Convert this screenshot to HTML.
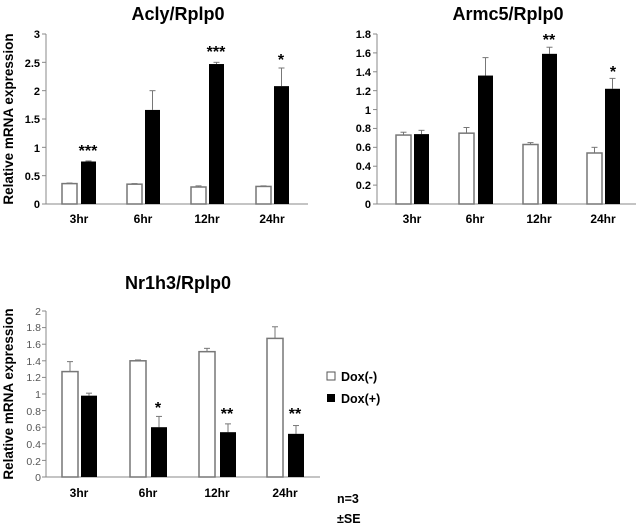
<!DOCTYPE html>
<html><head><meta charset="utf-8"><style>
body{margin:0;background:#fff;}
svg{display:block;font-family:"Liberation Sans",Arial,sans-serif;}
.t{font-weight:bold;font-size:18px;}
.y{font-weight:bold;font-size:11px;text-anchor:end;}
.y3{font-size:10.5px;text-anchor:end;fill:#555;}
.x{font-weight:bold;font-size:12px;text-anchor:middle;}
.s{font-weight:bold;font-size:16px;text-anchor:middle;}
.yl{font-weight:bold;font-size:13.5px;text-anchor:middle;}
.lg{font-weight:bold;font-size:12.5px;}
</style></head><body>
<svg id="c" width="636" height="528" viewBox="0 0 636 528">
<text class="t" x="178" y="20" text-anchor="middle">Acly/Rplp0</text>
<text class="t" x="508" y="20" text-anchor="middle">Armc5/Rplp0</text>
<text class="t" x="178" y="289" text-anchor="middle">Nr1h3/Rplp0</text>
<text class="yl" transform="translate(13,119) rotate(-90)">Relative mRNA expression</text>
<text class="yl" transform="translate(13,394) rotate(-90)">Relative mRNA expression</text>
<g class="y"><text x="40" y="208">0</text><text x="40" y="180">0.5</text><text x="40" y="152">1</text><text x="40" y="123">1.5</text><text x="40" y="95">2</text><text x="40" y="67">2.5</text><text x="40" y="38">3</text></g>
<g class="y"><text x="371" y="208">0</text><text x="371" y="189">0.2</text><text x="371" y="170">0.4</text><text x="371" y="151">0.6</text><text x="371" y="132">0.8</text><text x="371" y="114">1</text><text x="371" y="95">1.2</text><text x="371" y="76">1.4</text><text x="371" y="57">1.6</text><text x="371" y="38">1.8</text></g>
<g class="y3"><text x="41" y="481">0</text><text x="41" y="465">0.2</text><text x="41" y="448">0.4</text><text x="41" y="431">0.6</text><text x="41" y="415">0.8</text><text x="41" y="398">1</text><text x="41" y="381">1.2</text><text x="41" y="365">1.4</text><text x="41" y="348">1.6</text><text x="41" y="331">1.8</text><text x="41" y="315">2</text></g>
<g class="x"><text x="79" y="223">3hr</text><text x="143" y="223">6hr</text><text x="207" y="223">12hr</text><text x="272" y="223">24hr</text>
<text x="412" y="223">3hr</text><text x="475" y="223">6hr</text><text x="539" y="223">12hr</text><text x="603" y="223">24hr</text>
<text x="79" y="497">3hr</text><text x="148" y="497">6hr</text><text x="217" y="497">12hr</text><text x="285" y="497">24hr</text></g>
<g class="s"><text x="88" y="156">***</text><text x="216" y="57">***</text><text x="281" y="65">*</text>
<text x="549" y="45">**</text><text x="613" y="77">*</text>
<text x="158" y="413">*</text><text x="227" y="419">**</text><text x="295" y="419">**</text></g>
<rect x="327" y="372" width="8" height="8" fill="#fff" stroke="#555"/><rect x="327" y="394" width="8" height="8" fill="#000"/>
<text class="lg" x="341" y="381">Dox(-)</text><text class="lg" x="341" y="403">Dox(+)</text>
<text class="lg" x="337" y="503">n=3</text><text class="lg" x="337" y="523">±SE</text>
<g id="g"></g>
</svg>
<script>
var h='';
function ch(ax,y0,ppu,xe,ws,bs,bw,W,B,We,Be){
 h+='<line x1="'+ax+'" y1="'+(y0-ppu*( ch.max))+'" x2="'+ax+'" y2="'+y0+'" stroke="#888"/>';
 h+='<line x1="'+ax+'" y1="'+y0+'" x2="'+xe+'" y2="'+y0+'" stroke="#888"/>';
 for(var i=0;i<=ch.n;i++){var yy=y0-ppu*ch.max*i/ch.n;h+='<line x1="'+(ax-4)+'" y1="'+yy+'" x2="'+ax+'" y2="'+yy+'" stroke="#888"/>';}
 for(var i=0;i<4;i++){
  var yt=y0-W[i]*ppu,ye=y0-(W[i]+We[i])*ppu,cx=ws[i]+bw/2;
  h+='<line x1="'+cx+'" y1="'+yt+'" x2="'+cx+'" y2="'+ye+'" stroke="#777"/><line x1="'+(cx-3)+'" y1="'+ye+'" x2="'+(cx+3)+'" y2="'+ye+'" stroke="#777"/>';
  h+='<rect x="'+ws[i]+'" y="'+yt+'" width="'+bw+'" height="'+(W[i]*ppu)+'" fill="#fff" stroke="#777" stroke-width="1.5"/>';
  yt=y0-B[i]*ppu;ye=y0-(B[i]+Be[i])*ppu;cx=bs[i]+bw/2;
  h+='<line x1="'+cx+'" y1="'+yt+'" x2="'+cx+'" y2="'+ye+'" stroke="#777"/><line x1="'+(cx-3)+'" y1="'+ye+'" x2="'+(cx+3)+'" y2="'+ye+'" stroke="#777"/>';
  h+='<rect x="'+bs[i]+'" y="'+yt+'" width="'+bw+'" height="'+(B[i]*ppu)+'" fill="#000"/>';
 }
}
ch.max=3;ch.n=6;
ch(46,204,170/3,308,[62,127,191,256],[81,145,209,274],15,[.36,.35,.30,.31],[.75,1.66,2.47,2.08],[.01,.01,.02,.01],[.01,.34,.03,.32]);
ch.max=1.8;ch.n=9;
ch(377,204,170/1.8,636,[396,459,523,587],[414,478,542,605],15,[.73,.75,.63,.54],[.74,1.36,1.59,1.22],[.03,.06,.02,.06],[.04,.19,.07,.11]);
ch.max=2;ch.n=10;
ch(46,477,83,320,[62,130,199,267],[81,151,220,288],16,[1.27,1.40,1.51,1.67],[.98,.60,.54,.52],[.12,.01,.04,.14],[.03,.13,.10,.10]);
document.getElementById('g').innerHTML=h;
</script>
</body></html>
